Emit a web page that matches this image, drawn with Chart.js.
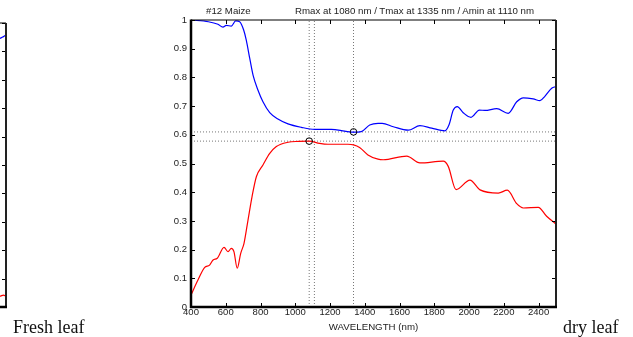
<!DOCTYPE html>
<html>
<head>
<meta charset="utf-8">
<script src="https://cdn.jsdelivr.net/npm/chart.js@4.4.0/dist/chart.umd.min.js"></script>
<style>
    html, body { margin: 0; padding: 0; background: #fff; }
    body { width: 633px; height: 337px; position: relative; overflow: hidden; font-family: "Liberation Sans", Arial, sans-serif; }
    #main { position: absolute; left: 0; top: 0; }
    #freshClip { position: absolute; left: 0; top: 0; width: 8px; height: 337px; overflow: hidden; }
    #fresh { position: absolute; left: -372px; top: 0; }
    .ttl { position: absolute; top: 6px; font-size: 9.7px; line-height: 9.7px; color: #222; white-space: nowrap; }
    .cap { position: absolute; top: 318px; font-family: "Liberation Serif", "Times New Roman", serif; font-size: 18px; line-height: 18px; color: #111; white-space: nowrap; }
</style>
</head>
<body>
<canvas id="main" width="633" height="337"></canvas>
<div id="freshClip"><canvas id="fresh" width="380" height="337"></canvas></div>
<div class="ttl" style="left:206px">#12 Maize</div>
<div class="ttl" style="left:295px">Rmax at 1080 nm / Tmax at 1335 nm / Amin at 1110 nm</div>
<div class="cap" style="left:13px">Fresh leaf</div>
<div class="cap" style="left:563px">dry leaf</div>
<script>
// tick values
var xTicks = [400, 600, 800, 1000, 1200, 1400, 1600, 1800, 2000, 2200, 2400];
var yTicks = [0, 0.1, 0.2, 0.3, 0.4, 0.5, 0.6, 0.7, 0.8, 0.9, 1];

// #12 Maize (dry leaf) - blue curve
var blueNm = [400, 500, 555, 584, 603, 632, 657, 680, 703, 718, 738, 757, 785, 814, 853, 900, 958,
    1035, 1112, 1207, 1284, 1335, 1380, 1428, 1476, 1500, 1564, 1650, 1717, 1785, 1861, 1884, 1909,
    1932, 1966, 2011, 2059, 2091, 2159, 2225, 2274, 2312, 2369, 2408, 2437, 2475, 2500];
var blueVal = [1.0, 0.994, 0.985, 0.975, 0.981, 0.979, 0.997, 0.994, 0.965, 0.930, 0.866, 0.808, 0.756,
    0.715, 0.677, 0.655, 0.638, 0.626, 0.619, 0.619, 0.613, 0.609, 0.611, 0.634, 0.640, 0.640, 0.628,
    0.616, 0.632, 0.623, 0.614, 0.634, 0.686, 0.698, 0.677, 0.661, 0.686, 0.685, 0.691, 0.675, 0.715,
    0.729, 0.725, 0.719, 0.735, 0.762, 0.768];

// red curve
var redNm = [400, 440, 479, 507, 527, 551, 590, 613, 632, 647, 666, 686, 705, 728, 751, 776, 814, 853,
    891, 958, 1020, 1080, 1140, 1188, 1303, 1335, 1370, 1418, 1476, 1506, 1641, 1717, 1851, 1880, 1925,
    2005, 2063, 2168, 2220, 2274, 2312, 2398, 2446, 2500];
var redVal = [0.042, 0.094, 0.138, 0.146, 0.164, 0.170, 0.208, 0.193, 0.204, 0.193, 0.135, 0.187, 0.222,
    0.303, 0.384, 0.454, 0.495, 0.535, 0.559, 0.574, 0.577, 0.578, 0.570, 0.567, 0.567, 0.565, 0.556,
    0.530, 0.515, 0.513, 0.526, 0.502, 0.508, 0.490, 0.409, 0.442, 0.408, 0.397, 0.407, 0.360, 0.345,
    0.347, 0.316, 0.289];

// Rmax, Tmax, Amin wavelengths and marker levels
var markNm = [1080, 1335, 1110];
var markVal = [0.578, 0.61];

// fresh leaf panel, only its right edge shows
var freshNm = [2440, 2465, 2485, 2500];
var freshBlue = [0.945, 0.946, 0.952, 0.958];
var freshRed = [0.045, 0.038, 0.042, 0.038];

function pts(xs, ys) {
    return xs.map(function(x, i) { return {x: x, y: ys[i]}; });
}

function curve(xs, ys, color) {
    return {
        data: pts(xs, ys), showLine: true, borderColor: color, borderWidth: 1.2,
        pointRadius: 0, cubicInterpolationMode: 'monotone', order: 1
    };
}

function dotted(xs, ys) {
    return {
        data: pts(xs, ys), showLine: true, borderColor: '#777', borderWidth: 1,
        borderDash: [1, 2], pointRadius: 0, order: 2
    };
}

// plain number labels (matlab style: 1000, 0.9, 1, 0)
function plain(v) {
    return String(Math.round(v * 1000) / 1000);
}

// inward ticks + box like matlab
var boxTicks = {
    id: 'boxTicks',
    afterDraw: function(chart, args, o) {
        var a = chart.chartArea, ctx = chart.ctx;
        var xs = chart.scales.x, ys = chart.scales.y;
        var t = o.len;
        ctx.save();
        ctx.strokeStyle = '#000';
        ctx.lineWidth = 1;
        ctx.beginPath();
        xs.ticks.forEach(function(tk) {
            var px = Math.round(xs.getPixelForValue(tk.value)) + 0.5;
            ctx.moveTo(px, a.bottom); ctx.lineTo(px, a.bottom - t);
            ctx.moveTo(px, a.top); ctx.lineTo(px, a.top + t);
        });
        ys.ticks.forEach(function(tk) {
            var py = Math.round(ys.getPixelForValue(tk.value)) + 0.5;
            ctx.moveTo(a.left, py); ctx.lineTo(a.left + t, py);
            ctx.moveTo(a.right, py); ctx.lineTo(a.right - t, py);
        });
        ctx.stroke();
        function edge(w, c, x1, y1, x2, y2) {
            ctx.lineWidth = w;
            ctx.strokeStyle = c;
            ctx.beginPath();
            ctx.moveTo(x1, y1);
            ctx.lineTo(x2, y2);
            ctx.stroke();
        }
        edge(o.top, '#000', a.left, a.top, a.right, a.top);
        edge(o.right, '#222', a.right, a.top, a.right, a.bottom);
        edge(o.bottom, '#000', a.left - 1, a.bottom, a.right + 1, a.bottom);
        edge(o.left, '#000', a.left, a.top - 0.5, a.left, a.bottom + 1);
        ctx.restore();
    }
};

function xScale(showLabels, h) {
    return {
        type: 'linear', min: 400, max: 2500,
        afterBuildTicks: function(s) { s.ticks = xTicks.map(function(v) { return {value: v}; }); },
        afterFit: function(s) { s.height = h; s.paddingLeft = 0; s.paddingRight = 0; },
        grid: {display: false, drawTicks: false},
        border: {display: false},
        ticks: {display: showLabels, padding: 0, color: '#222', maxRotation: 0, callback: plain,
            font: {family: 'Liberation Sans', size: 9.5}},
        title: {display: showLabels, text: 'WAVELENGTH (nm)', color: '#222', padding: {top: 0, bottom: 2},
            font: {family: 'Liberation Sans', size: 9.7}}
    };
}

function yScale(showLabels, w) {
    return {
        type: 'linear', min: 0, max: 1,
        afterBuildTicks: function(s) { s.ticks = yTicks.map(function(v) { return {value: v}; }); },
        afterFit: function(s) { s.width = w; s.paddingTop = 0; s.paddingBottom = 0; },
        grid: {display: false, drawTicks: false},
        border: {display: false},
        ticks: {display: showLabels, padding: 4, color: '#222', callback: plain,
            font: {family: 'Liberation Sans', size: 9.5}}
    };
}

var common = {
    responsive: false,
    animation: false,
    events: [],
    plugins: {legend: {display: false}, tooltip: {enabled: false}}
};

new Chart(document.getElementById('main'), {
    type: 'scatter',
    data: {
        datasets: [
            {
                data: pts([markNm[0], markNm[1]], markVal), pointRadius: 3.3, pointBorderWidth: 1,
                pointBorderColor: '#000', pointBackgroundColor: 'rgba(0,0,0,0)', showLine: false, order: 0
            },
            curve(blueNm, blueVal, '#0000ff'),
            curve(redNm, redVal, '#ff0000'),
            dotted([markNm[0], markNm[0]], [0, 1]),
            dotted([markNm[2], markNm[2]], [0, 1]),
            dotted([markNm[1], markNm[1]], [0, 1]),
            dotted([400, 2500], [markVal[0], markVal[0]]),
            dotted([400, 2500], [markVal[1], markVal[1]])
        ]
    },
    options: Object.assign({}, common, {
        layout: {padding: {left: 150, right: 77, top: 20, bottom: 2}},
        scales: {x: xScale(true, 28), y: yScale(true, 41)},
        plugins: Object.assign({}, common.plugins, {boxTicks: {len: 4, top: 1.2, right: 2, bottom: 2.5, left: 2.5}})
    }),
    plugins: [boxTicks]
});

// fresh leaf panel (cut off at the left)
new Chart(document.getElementById('fresh'), {
    type: 'scatter',
    data: {
        datasets: [
            curve(freshNm, freshBlue, '#0000ff'),
            curve(freshNm, freshRed, '#ff0000')
        ]
    },
    options: Object.assign({}, common, {
        layout: {padding: {left: 13, right: 2, top: 23, bottom: 30}},
        scales: {x: xScale(false, 0), y: yScale(false, 0)},
        plugins: Object.assign({}, common.plugins, {boxTicks: {len: 4, top: 1.2, right: 2, bottom: 2.5, left: 2.5}})
    }),
    plugins: [boxTicks]
});
</script>
</body>
</html>
